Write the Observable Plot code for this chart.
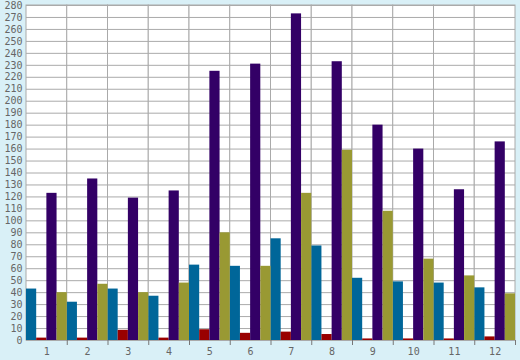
<!DOCTYPE html>
<html><head><meta charset="utf-8">
<script src="https://cdn.jsdelivr.net/npm/d3@7"></script>
<script src="https://cdn.jsdelivr.net/npm/@observablehq/plot@0.6"></script>
<style>
html,body{margin:0;padding:0;background:#d9f0f7;}
</style></head><body><div id="chart"></div>
<script>
const months = ["1","2","3","4","5","6","7","8","9","10","11","12"];
const seriesNames = ["A","B","C","D"];
const seriesA = [43,32,43,37,63,62,85,79,52,49,48,44];
const seriesB = [2,2,8.5,2,9,6,7,5,1.3,1.3,1.3,3];
const seriesC = [123,135,119,125,225,231,273,233,180,160,126,166];
const seriesD = [40,47,40,48,90,62,123,159,108,68,54,39];
const colors = ["#006699","#990000","#330066","#999933"];
const yTicks = [0,10,20,30,40,50,60,70,80,90,100,110,120,130,140,150,160,170,180,190,200,210,220,230,240,250,260,270,280];

const W = 520, H = 360, ML = 26, MR = 5, MT = 5, MB = 20;
const bw = (W - ML - MR) / months.length;
const allSeries = [seriesA, seriesB, seriesC, seriesD];

const barMarks = allSeries.map((s, i) =>
  Plot.barY(months.map((m, j) => ({month: m, value: s[j], series: seriesNames[i]})), {
    x: "month", y: "value", fill: colors[i],
    insetLeft: i * bw / 4, insetRight: (3 - i) * bw / 4
  })
);

const chart = Plot.plot({
  width: W, height: H,
  marginLeft: ML, marginRight: MR, marginTop: MT, marginBottom: MB,
  style: {fontFamily: "DejaVu Sans Mono", fontSize: "10px", background: "transparent", color: "#666"},
  x: {domain: months, padding: 0, round: false, label: null},
  y: {domain: [0, 280], label: null},
  marks: [
    Plot.barY(months, {x: d => d, y1: 0, y2: 280, fill: "white", stroke: "#aaa"}),
    Plot.gridY(yTicks, {stroke: "#aaa", strokeOpacity: 1}),
    ...barMarks,
    Plot.axisY(yTicks, {tickSize: 0, tickPadding: 4, fill: "#666"}),
    Plot.axisX({tickSize: 0, tickPadding: 7, fill: "#666"}),
    Plot.axisX({tickSize: 5, text: null, dx: bw / 2, stroke: "#777"})
  ]
});
document.getElementById("chart").appendChild(chart);
</script>
</body></html>
